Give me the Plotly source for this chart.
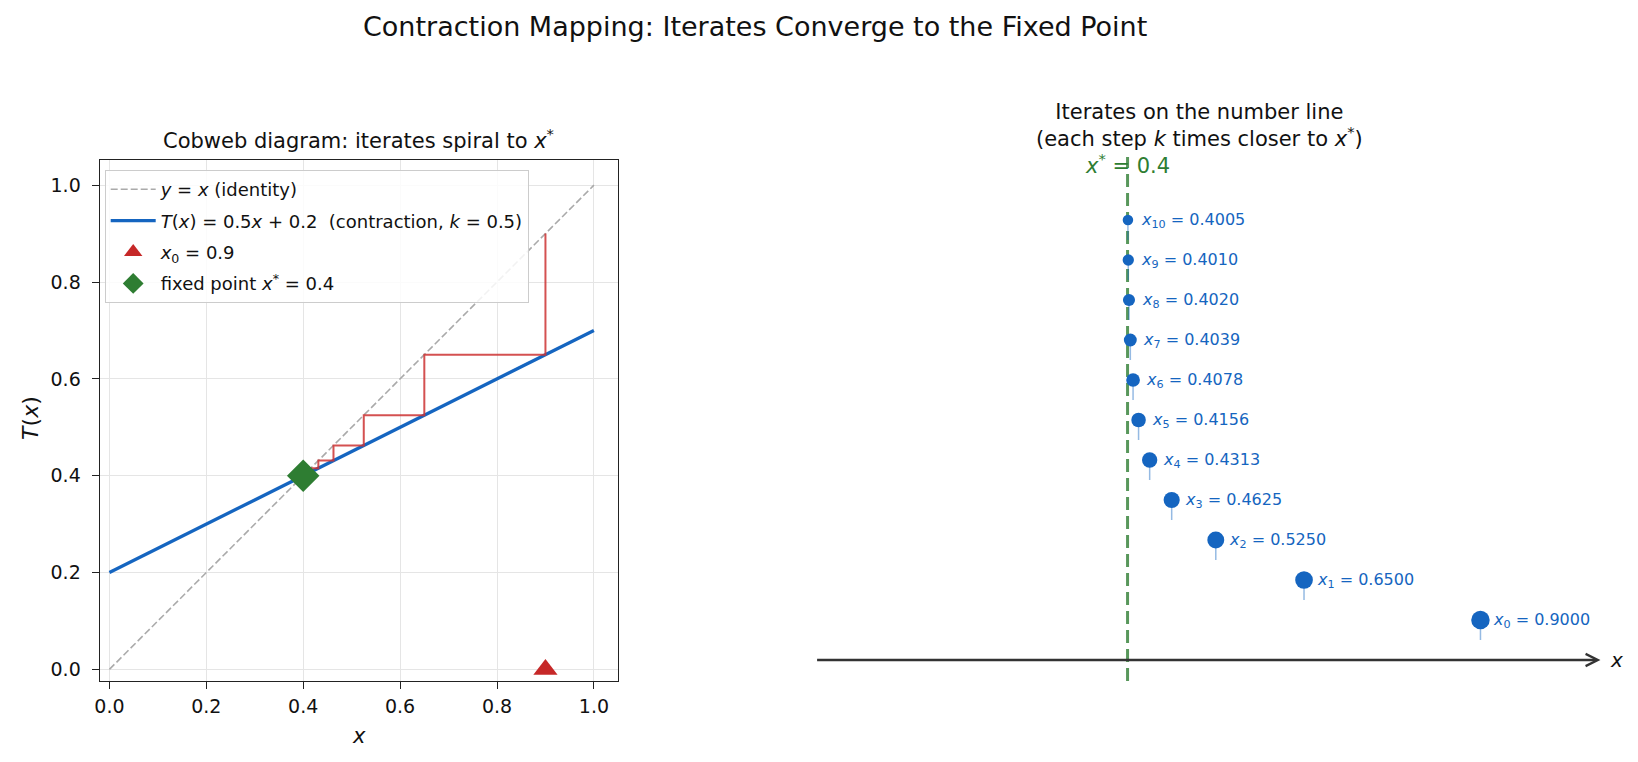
import plotly.graph_objects as go

# ---------------- data ----------------
slope_k = 0.5
intercept_c = 0.2
x_fixed = 0.4
iterates = [0.9, 0.65, 0.525, 0.4625, 0.4313, 0.4156, 0.4078, 0.4039, 0.4020, 0.4010, 0.4005]
line_x = [0.0, 1.0]
t_line_y = [0.2, 0.7]
identity_y = [0.0, 1.0]
tick_vals = [0.0, 0.2, 0.4, 0.6, 0.8, 1.0]

W, H = 1638, 762
FONT = "DejaVu Sans"

def px_x(p):
    return p / W

def px_y(p):
    return 1 - p / H

fig = go.Figure()

# ---------------- left: cobweb ----------------
fig.add_trace(go.Scatter(
    x=line_x, y=identity_y, mode="lines", xaxis="x", yaxis="y",
    line=dict(color="#aaaaaa", width=1.6, dash="7px,3px"),
    name="<i>y</i> = <i>x</i> (identity)", legendgroup="a"))
fig.add_trace(go.Scatter(
    x=line_x, y=t_line_y, mode="lines", xaxis="x", yaxis="y",
    line=dict(color="#1565c0", width=3.3),
    name="<i>T</i>(<i>x</i>) = 0.5<i>x</i> + 0.2  (contraction, <i>k</i> = 0.5)", legendgroup="b"))

cx, cy = [iterates[0]], [iterates[0]]
for a, b in zip(iterates[:-1], iterates[1:]):
    cx += [a, b]
    cy += [b, b]
fig.add_trace(go.Scatter(
    x=cx, y=cy, mode="lines", xaxis="x", yaxis="y",
    line=dict(color="rgba(205,50,50,0.85)", width=2), showlegend=False))

fig.add_trace(go.Scatter(
    x=[iterates[0]], y=[0.0], mode="markers", xaxis="x", yaxis="y",
    marker=dict(symbol="triangle-up", size=21, color="#c62828"),
    name="<i>x</i><sub>0</sub> = 0.9", legendgroup="c"))
fig.add_trace(go.Scatter(
    x=[x_fixed], y=[x_fixed], mode="markers", xaxis="x", yaxis="y",
    marker=dict(symbol="diamond", size=25, color="#2e7d32"),
    name="fixed point <i>x</i><sup>*</sup> = 0.4", legendgroup="d"))

# ---------------- right: number line ----------------
levels = [i + 1 for i in range(len(iterates))]
fig.add_trace(go.Scatter(
    x=[x_fixed, x_fixed], y=[-0.525, 12.575], mode="lines", xaxis="x2", yaxis="y2",
    line=dict(color="rgba(46,125,50,0.8)", width=3, dash="13px,6px"), showlegend=False))

sx, sy = [], []
for v, lv in zip(iterates, levels):
    sx += [v, v, None]
    sy += [lv - 0.5, lv, None]
fig.add_trace(go.Scatter(
    x=sx, y=sy, mode="lines", xaxis="x2", yaxis="y2",
    line=dict(color="rgba(21,101,192,0.45)", width=1.5), showlegend=False))

sizes = [18.5 - 0.8 * i for i in range(len(iterates))]
fig.add_trace(go.Scatter(
    x=iterates, y=levels, mode="markers", xaxis="x2", yaxis="y2",
    marker=dict(size=sizes, color="#1565c0", opacity=1, line=dict(width=0)), showlegend=False))

annotations = []
for i, (v, lv) in enumerate(zip(iterates, levels)):
    annotations.append(dict(
        x=v, y=lv, xref="x2", yref="y2", xanchor="left", yanchor="middle",
        xshift=11, showarrow=False,
        text=f"<i>x</i><sub>{i}</sub> = {v:.4f}",
        font=dict(family=FONT, size=16, color="#1565c0")))

# number line arrow
annotations.append(dict(
    x=1.07, y=0, ax=-0.042, ay=0, xref="x2", yref="y2", axref="x2", ayref="y2",
    showarrow=True, arrowhead=5, arrowsize=1.0, arrowwidth=2.4, arrowcolor="#333333", text=""))
annotations.append(dict(
    x=1.07, y=0, xref="x2", yref="y2", xanchor="left", yanchor="middle", xshift=8,
    showarrow=False, text="<i>x</i>", font=dict(family=FONT, size=20, color="#111111")))
annotations.append(dict(
    x=x_fixed, y=12.4, xref="x2", yref="y2", xanchor="center", yanchor="middle",
    showarrow=False, text="<i>x</i><sup>*</sup> = 0.4",
    font=dict(family=FONT, size=21, color="#2e7d32")))

# titles
annotations.append(dict(
    x=px_x(752), y=px_y(26), xref="paper", yref="paper", showarrow=False,
    xanchor="center", yanchor="middle",
    text="Contraction Mapping: Iterates Converge to the Fixed Point",
    font=dict(family=FONT, size=27, color="#111111")))
annotations.append(dict(
    x=px_x(355), y=px_y(139), xref="paper", yref="paper", showarrow=False,
    xanchor="center", yanchor="middle",
    text="Cobweb diagram: iterates spiral to <i>x</i><sup>*</sup>",
    font=dict(family=FONT, size=21, color="#111111")))
annotations.append(dict(
    x=px_x(1198), y=px_y(125), xref="paper", yref="paper", showarrow=False,
    xanchor="center", yanchor="middle", align="center",
    text="Iterates on the number line<br>(each step <i>k</i> times closer to <i>x</i><sup>*</sup>)",
    font=dict(family=FONT, size=21, color="#111111")))
annotations.append(dict(
    x=px_x(355), y=px_y(736), xref="paper", yref="paper", showarrow=False,
    xanchor="center", yanchor="middle", text="<i>x</i>",
    font=dict(family=FONT, size=21, color="#111111")))
annotations.append(dict(
    x=px_x(26), y=px_y(418), xref="paper", yref="paper", showarrow=False,
    xanchor="center", yanchor="middle", textangle=-90, text="<i>T</i>(<i>x</i>)",
    font=dict(family=FONT, size=22, color="#111111")))

axis_common = dict(
    showline=True, mirror=True, linecolor="#222222", linewidth=1.3,
    ticks="outside", ticklen=7, tickwidth=1.2, tickcolor="#222222",
    showgrid=True, gridcolor="#e5e5e5", gridwidth=1, zeroline=False,
    tickvals=tick_vals, tickformat=".1f",
    tickfont=dict(family=FONT, size=19, color="#111111"))

fig.update_layout(
    width=W, height=H, margin=dict(l=0, r=0, t=0, b=0),
    paper_bgcolor="white", plot_bgcolor="white",
    font=dict(family=FONT, color="#111111"),
    xaxis=dict(domain=[px_x(95), px_x(615)], range=[-0.02, 1.05], anchor="y",
               ticklabelstandoff=1, **axis_common),
    yaxis=dict(domain=[px_y(681), px_y(160)], range=[-0.024, 1.052], anchor="x",
               ticklabelstandoff=7, **axis_common),
    xaxis2=dict(domain=[px_x(790), px_x(1630)], range=[-0.0746, 1.1119], anchor="y2", visible=False),
    yaxis2=dict(domain=[px_y(700), px_y(150)], range=[-1, 12.75], anchor="x2", visible=False),
    showlegend=True,
    legend=dict(
        x=px_x(100), y=px_y(170), xanchor="left", yanchor="top",
        bgcolor="rgba(255,255,255,0.85)", bordercolor="#cccccc", borderwidth=1,
        font=dict(family=FONT, size=18, color="#111111"),
        tracegroupgap=5, itemsizing="trace", itemwidth=45),
    annotations=annotations,
)

fig.write_html("out.html")
